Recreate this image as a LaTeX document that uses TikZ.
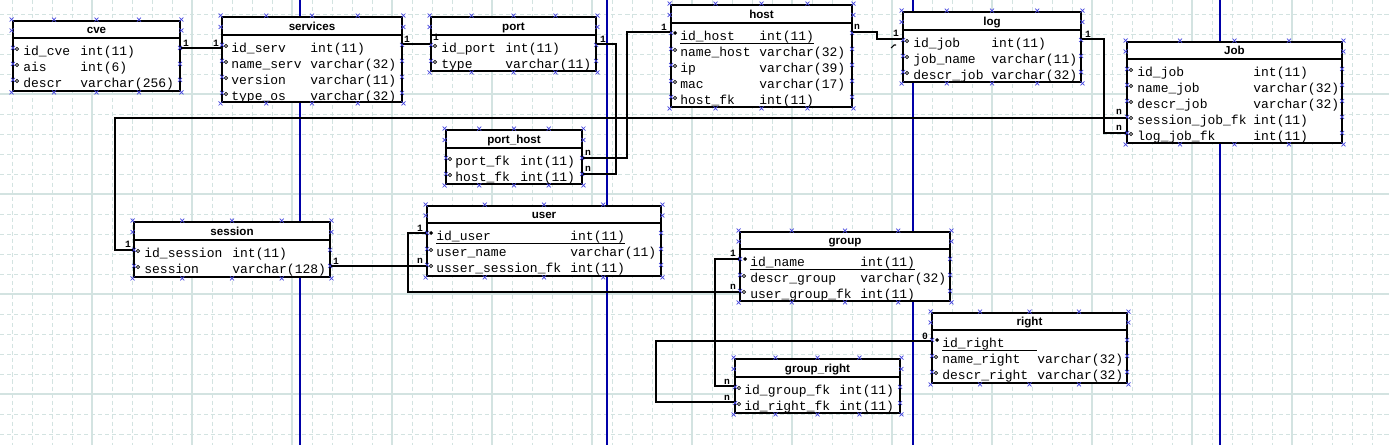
\documentclass[tikz,border=0pt]{standalone}
\usepackage{fontspec}
\newfontfamily\dbmono{Liberation Mono}
\newfontfamily\dbsans{Liberation Sans}
\usetikzlibrary{fit,calc}
\definecolor{gridc}{RGB}{211,227,225}
\definecolor{pageblue}{RGB}{0,0,168}
\definecolor{xblue}{RGB}{72,72,224}
\tikzset{
  tbl/.style={draw, fill=white, line width=1.6pt, inner sep=0pt},
  hdl/.style={line width=1.6pt},
  ttl/.style={font=\dbsans\bfseries\fontsize{6.6}{7}\selectfont, inner sep=0pt, text height=4.8pt, text depth=1.3pt},
  fld/.style={font=\dbmono\fontsize{7.4}{8}\selectfont, anchor=west, inner sep=0pt, text height=5.5pt, text depth=1.2pt},
  card/.style={font=\dbmono\bfseries\fontsize{5.5}{6}\selectfont, inner sep=0pt},
  conn/.style={line width=1.4pt},
  mk/.style={line width=0.4pt},
  ul/.style={line width=0.6pt},
  gridminor/.style={gridc, line width=0.55pt, dash pattern=on 2.3pt off 1.7pt},
  gridmajor/.style={gridc, line width=0.6pt},
  pagebreak/.style={pageblue, line width=0.7pt},
  xmk/.pic={\draw[xblue, line width=0.4pt] (-2,-2) -- (2,2) (-2,2) -- (2,-2);}
}
\begin{document}
\begin{tikzpicture}[x=0.02cm, y=-0.02cm]
  \useasboundingbox (0,0) rectangle (1389,445);
  \fill[white] (0,0) rectangle (1389,445);

  % grid and page breaks
  \begin{scope}
    \clip (0,0) rectangle (1389,445);
    \foreach \x in {12,32,...,1392} \draw[gridminor] (\x,0) -- (\x,445);
    \foreach \y in {14,34,...,434} \draw[gridminor] (0,\y) -- (1389,\y);
    \foreach \x in {92,192,...,1292} \draw[gridmajor] (\x,0) -- (\x,445);
    \foreach \y in {94,194,...,394} \draw[gridmajor] (0,\y) -- (1389,\y);
  \end{scope}
  \foreach \x in {300,607,913,1220} \draw[pagebreak] (\x,0) -- (\x,445);

  % cve
  \node[tbl, fit={(13,21) (180,91)}] (cve) {};
  \draw[hdl] (cve.west |- 0,38) -- (cve.east |- 0,38);
  \node[ttl] (cve-t) at (96.5,30.5) {cve};
  \foreach \fn/\ft [count=\i] in {id\_cve/int(11), ais/int(6), descr/varchar(256)} {
    \node[fld] (cve-n\i) at (23,{36+16*\i}) {\fn} node[fld] (cve-d\i) at (80,{36+16*\i}) {\ft};
    \draw[mk] (17,{33+16*\i}) circle (0.9pt);
    \pic at (13,{32+16*\i}) {xmk}; \pic at (180,{32+16*\i}) {xmk};
  }

  % services
  \node[tbl, fit={(222,17) (402,102)}] (serv) {};
  \draw[hdl] (serv.west |- 0,35) -- (serv.east |- 0,35);
  \node[ttl] (serv-t) at (312,27) {services};
  \foreach \fn/\ft [count=\i] in {id\_serv/int(11), name\_serv/varchar(32), version/varchar(11), type\_os/varchar(32)} {
    \node[fld] (serv-n\i) at (231,{33+16*\i}) {\fn} node[fld] (serv-d\i) at (310,{33+16*\i}) {\ft};
    \draw[mk] (226,{30+16*\i}) circle (0.9pt);
    \pic at (222,{29+16*\i}) {xmk}; \pic at (402,{29+16*\i}) {xmk};
  }

  % port
  \node[tbl, fit={(431,17) (596,71)}] (port) {};
  \draw[hdl] (port.west |- 0,35) -- (port.east |- 0,35);
  \node[ttl] (port-t) at (513.5,27) {port};
  \foreach \fn/\ft [count=\i] in {id\_port/int(11), type/varchar(11)} {
    \node[fld] (port-n\i) at (441,{33+16*\i}) {\fn} node[fld] (port-d\i) at (505,{33+16*\i}) {\ft};
    \draw[mk] (435,{30+16*\i}) circle (0.9pt);
    \pic at (431,{29+16*\i}) {xmk}; \pic at (596,{29+16*\i}) {xmk};
  }

  % host
  \node[tbl, fit={(671,5) (852,107)}] (host) {};
  \draw[hdl] (host.west |- 0,23) -- (host.east |- 0,23);
  \node[ttl] (host-t) at (761.5,15) {host};
  \node[fld] (host-n1) at (680,37) {id\_host} node[fld] (host-d1) at (759,37) {int(11)};
  \draw[ul] (host-n1.south west) -- (host-d1.south east);
  \fill (675,33) +(-2,0) -- +(0,-2) -- +(2,0) -- +(0,2) -- cycle;
  \pic at (671,33) {xmk}; \pic at (852,33) {xmk};
  \foreach \fn/\ft [count=\i from 2] in {name\_host/varchar(32), ip/varchar(39), mac/varchar(17), host\_fk/int(11)} {
    \node[fld] (host-n\i) at (680,{21+16*\i}) {\fn} node[fld] (host-d\i) at (759,{21+16*\i}) {\ft};
    \draw[mk] (675,{18+16*\i}) circle (0.9pt);
    \pic at (671,{17+16*\i}) {xmk}; \pic at (852,{17+16*\i}) {xmk};
  }

  % log
  \node[tbl, fit={(903,12) (1081,82)}] (log) {};
  \draw[hdl] (log.west |- 0,30) -- (log.east |- 0,30);
  \node[ttl] (log-t) at (992,22) {log};
  \foreach \fn/\ft [count=\i] in {id\_job/int(11), job\_name/varchar(11), descr\_job/varchar(32)} {
    \node[fld] (log-n\i) at (913,{28+16*\i}) {\fn} node[fld] (log-d\i) at (991,{28+16*\i}) {\ft};
    \draw[mk] (907,{25+16*\i}) circle (0.9pt);
    \pic at (903,{24+16*\i}) {xmk}; \pic at (1081,{24+16*\i}) {xmk};
  }

  % Job
  \node[tbl, fit={(1127,42) (1342,143)}] (job) {};
  \draw[hdl] (job.west |- 0,59) -- (job.east |- 0,59);
  \node[ttl] (job-t) at (1234.5,51.5) {Job};
  \foreach \fn/\ft [count=\i] in {id\_job/int(11), name\_job/varchar(32), descr\_job/varchar(32), session\_job\_fk/int(11), log\_job\_fk/int(11)} {
    \node[fld] (job-n\i) at (1137,{57+16*\i}) {\fn} node[fld] (job-d\i) at (1253,{57+16*\i}) {\ft};
    \draw[mk] (1131,{54+16*\i}) circle (0.9pt);
    \pic at (1127,{53+16*\i}) {xmk}; \pic at (1342,{53+16*\i}) {xmk};
  }

  % port_host
  \node[tbl, fit={(446,130) (582,184)}] (porthost) {};
  \draw[hdl] (porthost.west |- 0,148) -- (porthost.east |- 0,148);
  \node[ttl] (porthost-t) at (514,140) {port\_host};
  \foreach \fn/\ft [count=\i] in {port\_fk/int(11), host\_fk/int(11)} {
    \node[fld] (porthost-n\i) at (455,{146+16*\i}) {\fn} node[fld] (porthost-d\i) at (520,{146+16*\i}) {\ft};
    \draw[mk] (450,{143+16*\i}) circle (0.9pt);
    \pic at (446,{142+16*\i}) {xmk}; \pic at (582,{142+16*\i}) {xmk};
  }

  % session
  \node[tbl, fit={(134,222) (330,277)}] (sess) {};
  \draw[hdl] (sess.west |- 0,240) -- (sess.east |- 0,240);
  \node[ttl] (sess-t) at (232,232) {session};
  \foreach \fn/\ft [count=\i] in {id\_session/int(11), session/varchar(128)} {
    \node[fld] (sess-n\i) at (144,{238+16*\i}) {\fn} node[fld] (sess-d\i) at (232,{238+16*\i}) {\ft};
    \draw[mk] (138,{235+16*\i}) circle (0.9pt);
    \pic at (134,{234+16*\i}) {xmk}; \pic at (330,{234+16*\i}) {xmk};
  }

  % user
  \node[tbl, fit={(427,206) (661,276)}] (user) {};
  \draw[hdl] (user.west |- 0,223) -- (user.east |- 0,223);
  \node[ttl] (user-t) at (544,215.5) {user};
  \node[fld] (user-n1) at (436,237) {id\_user} node[fld] (user-d1) at (570,237) {int(11)};
  \draw[ul] (user-n1.south west) -- (user-d1.south east);
  \fill (431,233) +(-2,0) -- +(0,-2) -- +(2,0) -- +(0,2) -- cycle;
  \pic at (427,233) {xmk}; \pic at (661,233) {xmk};
  \foreach \fn/\ft [count=\i from 2] in {user\_name/varchar(11), usser\_session\_fk/int(11)} {
    \node[fld] (user-n\i) at (436,{221+16*\i}) {\fn} node[fld] (user-d\i) at (570,{221+16*\i}) {\ft};
    \draw[mk] (431,{218+16*\i}) circle (0.9pt);
    \pic at (427,{217+16*\i}) {xmk}; \pic at (661,{217+16*\i}) {xmk};
  }

  % group
  \node[tbl, fit={(740,232) (950,301)}] (grp) {};
  \draw[hdl] (grp.west |- 0,249) -- (grp.east |- 0,249);
  \node[ttl] (grp-t) at (845,241.5) {group};
  \node[fld] (grp-n1) at (750,263) {id\_name} node[fld] (grp-d1) at (860,263) {int(11)};
  \draw[ul] (grp-n1.south west) -- (grp-d1.south east);
  \fill (745,259) +(-2,0) -- +(0,-2) -- +(2,0) -- +(0,2) -- cycle;
  \pic at (740,259) {xmk}; \pic at (950,259) {xmk};
  \foreach \fn/\ft [count=\i from 2] in {descr\_group/varchar(32), user\_group\_fk/int(11)} {
    \node[fld] (grp-n\i) at (750,{247+16*\i}) {\fn} node[fld] (grp-d\i) at (860,{247+16*\i}) {\ft};
    \draw[mk] (744,{244+16*\i}) circle (0.9pt);
    \pic at (740,{243+16*\i}) {xmk}; \pic at (950,{243+16*\i}) {xmk};
  }

  % right
  \node[tbl, fit={(932,313) (1127,383)}] (rgt) {};
  \draw[hdl] (rgt.west |- 0,330) -- (rgt.east |- 0,330);
  \node[ttl] (rgt-t) at (1029.5,322.5) {right};
  \node[fld] (rgt-n1) at (942,344) {id\_right};
  \draw[ul] (rgt-n1.south west) -- (rgt-n1.south west -| 1037,0);
  \fill (937,340) +(-2,0) -- +(0,-2) -- +(2,0) -- +(0,2) -- cycle;
  \pic at (932,340) {xmk}; \pic at (1127,340) {xmk};
  \foreach \fn/\ft [count=\i from 2] in {name\_right/varchar(32), descr\_right/varchar(32)} {
    \node[fld] (rgt-n\i) at (942,{328+16*\i}) {\fn} node[fld] (rgt-d\i) at (1037,{328+16*\i}) {\ft};
    \draw[mk] (936,{325+16*\i}) circle (0.9pt);
    \pic at (932,{324+16*\i}) {xmk}; \pic at (1127,{324+16*\i}) {xmk};
  }

  % group_right
  \node[tbl, fit={(735,359) (900,413)}] (grprgt) {};
  \draw[hdl] (grprgt.west |- 0,377) -- (grprgt.east |- 0,377);
  \node[ttl] (grprgt-t) at (817.5,369) {group\_right};
  \foreach \fn/\ft [count=\i] in {id\_group\_fk/int(11), id\_right\_fk/int(11)} {
    \node[fld] (grprgt-n\i) at (744,{375+16*\i}) {\fn} node[fld] (grprgt-d\i) at (839,{375+16*\i}) {\ft};
    \draw[mk] (739,{372+16*\i}) circle (0.9pt);
    \pic at (735,{371+16*\i}) {xmk}; \pic at (900,{371+16*\i}) {xmk};
  }

  % relations
  \draw[conn] (cve.east |- 0,48) -- (serv.west |- 0,48);
  \draw[conn] (serv.east |- 0,44) -- (port.west |- 0,44);
  \draw[conn] (port.east |- 0,44) -- (616,44) -- (616,174) -- (porthost.east |- 0,174);
  \draw[conn] (host.west |- 0,32) -- (627,32) -- (627,158) -- (porthost.east |- 0,158);
  \draw[conn] (host.east |- 0,32) -- (877,32) -- (877,39) -- (log.west |- 0,39);
  \draw[conn] (log.east |- 0,39) -- (1104,39) -- (1104,133) -- (job.west |- 0,133);
  \draw[conn] (sess.west |- 0,250) -- (115,250) -- (115,118) -- (job.west |- 0,118);
  \draw[conn] (sess.east |- 0,266) -- (user.west |- 0,266);
  \draw[conn] (user.west |- 0,233) -- (408,233) -- (408,292) -- (grp.west |- 0,292);
  \draw[conn] (grp.west |- 0,259) -- (715,259) -- (715,386) -- (grprgt.west |- 0,386);
  \draw[conn] (rgt.west |- 0,341) -- (656,341) -- (656,402) -- (grprgt.west |- 0,402);
  \draw[line width=0.6pt] (891,48) -- (894,45) -- (896,45);

  % cardinalities
  \node[card] (c1-a) at (186,43) {1};
  \node[card] (c1-b) at (216,43) {1};
  \node[card] (c2-a) at (407,39) {1};
  \node[card] (c2-b) at (436,37) {1};
  \node[card] (c3-a) at (603,39) {1};
  \node[card] (c3-b) at (588,169) {n};
  \node[card] (c4-a) at (664,27) {1};
  \node[card] (c4-b) at (588,153) {n};
  \node[card] (c5-a) at (857,27) {n};
  \node[card] (c5-b) at (896,33) {1};
  \node[card] (c6-a) at (1088,34) {1};
  \node[card] (c6-b) at (1119,128) {n};
  \node[card] (c7-a) at (128,244) {1};
  \node[card] (c7-b) at (1119,112) {n};
  \node[card] (c8-a) at (336,261) {1};
  \node[card] (c8-b) at (420,261) {n};
  \node[card] (c9-a) at (420,228) {1};
  \node[card] (c9-b) at (733,287) {n};
  \node[card] (c10-a) at (733,253) {1};
  \node[card] (c10-b) at (727,382) {n};
  \node[card] (c11-a) at (925,336) {0};
  \node[card] (c11-b) at (727,398) {n};

  % handles
  \foreach \t in {cve,serv,port,host,log,job,porthost,sess,user,grp,rgt,grprgt} {
    \foreach \f in {0,0.25,0.5,0.75,1} {
      \pic at ($(\t.north west)!\f!(\t.north east)$) {xmk};
      \pic at ($(\t.south west)!\f!(\t.south east)$) {xmk};
    }
    \pic at (\t.west |- \t-t) {xmk};
    \pic at (\t.east |- \t-t) {xmk};
  }
\end{tikzpicture}
\end{document}
